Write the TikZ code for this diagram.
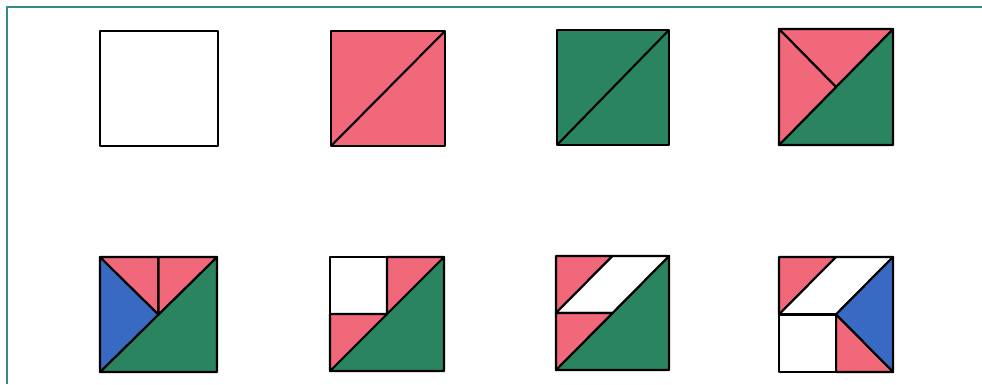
\documentclass[tikz,border=0pt]{standalone}
\usepackage{tikz}
\definecolor{rose}{RGB}{240,104,122}
\definecolor{leaf}{RGB}{42,132,96}
\definecolor{sky}{RGB}{56,106,196}
\definecolor{frameteal}{RGB}{50,140,128}

\begin{document}
\begin{tikzpicture}[x=1pt, y=-1pt, line join=round,
  ink/.style={draw=black, line width=2.1pt},
  rosepart/.style={ink, fill=rose},
  leafpart/.style={ink, fill=leaf},
  skypart/.style={ink, fill=sky},
  blankpart/.style={ink, fill=white}]

\useasboundingbox (0,0) rectangle (982,384);

% page frame
\draw[frameteal, line width=1.5pt] (7,384) -- (7,7) -- (982,7);

% Row 1: empty square
\begin{scope}[shift={(100,31)}, xscale=118, yscale=115]
  \draw[ink] (0,0) rectangle (1,1);
\end{scope}

% Row 1: pink halves
\begin{scope}[shift={(331,31)}, xscale=114, yscale=115]
  \draw[rosepart] (0,0) rectangle (1,1);
  \draw[ink] (0,1) -- (1,0);
\end{scope}

% Row 1: green halves
\begin{scope}[shift={(557,30)}, xscale=112, yscale=115]
  \draw[leafpart] (0,0) rectangle (1,1);
  \draw[ink] (0,1) -- (1,0);
\end{scope}

% Row 1: two pink quarters, green half
\begin{scope}[shift={(779,29)}, xscale=114, yscale=116]
  \draw[leafpart] (0,1) -- (1,0) -- (1,1) -- cycle;
  \draw[rosepart] (0,0) -- (1,0) -- (.5,.5) -- cycle;
  \draw[rosepart] (0,0) -- (.5,.5) -- (0,1) -- cycle;
\end{scope}

% Row 2: blue, two pink eighths, green half
\begin{scope}[shift={(100,257)}, xscale=117, yscale=115]
  \draw[leafpart] (0,1) -- (1,0) -- (1,1) -- cycle;
  \draw[skypart] (0,0) -- (.5,.5) -- (0,1) -- cycle;
  \draw[rosepart] (0,0) -- (.5,0) -- (.5,.5) -- cycle;
  \draw[rosepart] (.5,0) -- (1,0) -- (.5,.5) -- cycle;
\end{scope}

% Row 2: white square, two pink eighths, green half
\begin{scope}[shift={(330,257)}, xscale=114, yscale=114]
  \draw[leafpart] (0,1) -- (1,0) -- (1,1) -- cycle;
  \draw[blankpart] (0,0) rectangle (.5,.5);
  \draw[rosepart] (.5,0) -- (1,0) -- (.5,.5) -- cycle;
  \draw[rosepart] (0,.5) -- (.5,.5) -- (0,1) -- cycle;
\end{scope}

% Row 2: parallelogram, two pink eighths, green half
\begin{scope}[shift={(556,256)}, xscale=113, yscale=114]
  \draw[leafpart] (0,1) -- (1,0) -- (1,1) -- cycle;
  \draw[rosepart] (0,0) -- (.5,0) -- (0,.5) -- cycle;
  \draw[blankpart] (.5,0) -- (1,0) -- (.5,.5) -- (0,.5) -- cycle;
  \draw[rosepart] (0,.5) -- (.5,.5) -- (0,1) -- cycle;
\end{scope}

% Row 2: all seven pieces
\begin{scope}[shift={(779,257)}, xscale=114, yscale=115]
  \draw[rosepart] (0,0) -- (.5,0) -- (0,.5) -- cycle;
  \draw[blankpart] (.5,0) -- (1,0) -- (.5,.5) -- (0,.5) -- cycle;
  \draw[skypart] (1,0) -- (1,1) -- (.5,.5) -- cycle;
  \draw[rosepart] (.5,.5) -- (1,1) -- (.5,1) -- cycle;
  \draw[blankpart] (0,.5) rectangle (.5,1);
\end{scope}

\end{tikzpicture}
\end{document}
